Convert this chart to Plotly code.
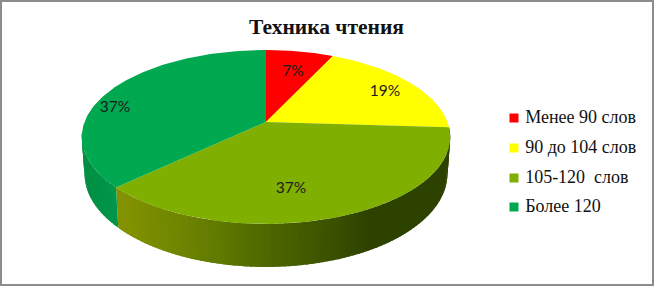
import numpy as np
import plotly.graph_objects as go

# --- data ---
title = "Техника чтения"
categories = ["Менее 90 слов", "90 до 104 слов", "105-120  слов", "Более 120"]
values = [7, 19, 37, 37]
labels = ["7%", "19%", "37%", "37%"]
colors = ["#FF0000", "#FFFF00", "#7FAF00", "#00A850"]

# --- layout / projection (pixels) ---
W, H = 654, 286
CX, CY = 266, 122          # pie apex
A, B, K = 181.5, 84.4, 0.172   # perspective projection of the disc
DEPTH, SHRINK = 35.6, 0.985
label_x = [293, 385, 291, 115]
label_y = [72, 92, 189, 108]
legend_sw_x = 514
legend_y = [118, 148, 178, 207]
# side-wall shading: pixel x -> rgb
side_stops = {
    2: ([118, 127, 193, 260, 327, 365, 460],
        [(132, 146, 0), (130, 146, 0), (106, 130, 0), (79, 106, 0), (59, 82, 0), (47, 67, 0), (46, 66, 0)]),
    3: ([80, 95, 118], [(0, 138, 64), (0, 146, 70), (0, 152, 76)]),
}


def project(theta, r=1.0, lower=False):
    u, v = r * np.sin(theta), r * np.cos(theta)
    s = 1 / (1 + K * v)
    x, y = A * u * s, -B * v * s
    if lower:
        return CX + x * SHRINK, CY + y + DEPTH * s
    return CX + x, CY + y


fracs = np.array(values, float) / sum(values)
edges = np.concatenate([[0], np.cumsum(fracs)]) * 2 * np.pi

fig = go.Figure()

# side wall, built from the same slice angles
SIDE_START, SIDE_END = edges[2], np.radians(264)
for idx in (2, 3):
    lo, hi = max(edges[idx], SIDE_START), min(edges[idx + 1], SIDE_END)
    n = int(np.degrees(hi - lo) / 1.5) + 1
    ts = np.linspace(lo, hi, n + 1)
    sx, sc = side_stops[idx]
    for i in range(n):
        t = np.linspace(ts[i], min(ts[i + 1] + 0.02, hi), 4)
        x1, y1 = project(t)
        x2, y2 = project(t[::-1], lower=True)
        mx = float(x2.mean())
        rgb = [int(np.interp(mx, sx, [c[j] for c in sc])) for j in range(3)]
        fig.add_trace(go.Scatter(
            x=np.r_[x1, x2], y=np.r_[y1, y2], mode="lines", fill="toself",
            fillcolor=f"rgb({rgb[0]},{rgb[1]},{rgb[2]})", line=dict(width=0),
            hoverinfo="skip", showlegend=False))

# top face
for i, cat in enumerate(categories):
    t = np.linspace(edges[i], edges[i + 1], 120)
    x, y = project(t)
    fig.add_trace(go.Scatter(
        x=np.r_[CX, x, CX], y=np.r_[CY, y, CY], mode="lines", fill="toself",
        fillcolor=colors[i], line=dict(width=0), name=cat, showlegend=False,
        hoverinfo="name"))

# percent labels
fig.add_trace(go.Scatter(
    x=label_x, y=label_y, mode="text", text=labels, showlegend=False, hoverinfo="skip",
    textfont=dict(family="Lato", size=15.5, color="#1c1c1c")))

# legend
fig.add_trace(go.Scatter(
    x=[legend_sw_x] * 4, y=legend_y, mode="markers+text", text=[" " + c for c in categories],
    textposition="middle right", showlegend=False, hoverinfo="skip",
    marker=dict(symbol="square", size=9, color=colors, line=dict(width=0)),
    textfont=dict(family="Liberation Serif", size=18, color="#111111")))

fig.update_layout(
    width=W, height=H, margin=dict(l=0, r=0, t=0, b=0),
    paper_bgcolor="white", plot_bgcolor="white",
    xaxis=dict(range=[0, W], visible=False, fixedrange=True),
    yaxis=dict(range=[H, 0], visible=False, fixedrange=True),
    annotations=[dict(x=326, y=27, xref="x", yref="y", text=f"<b>{title}</b>", showarrow=False,
                      font=dict(family="Liberation Serif", size=21.5, color="#111111"))],
    shapes=[dict(type="rect", xref="paper", yref="paper", x0=0, y0=0, x1=1, y1=1,
                 line=dict(color="#8c8c8c", width=4))],
)

fig.write_html("out.html", config=dict(displayModeBar=False),
               post_script="document.body.style.margin='0';document.documentElement.style.overflow='hidden';")
